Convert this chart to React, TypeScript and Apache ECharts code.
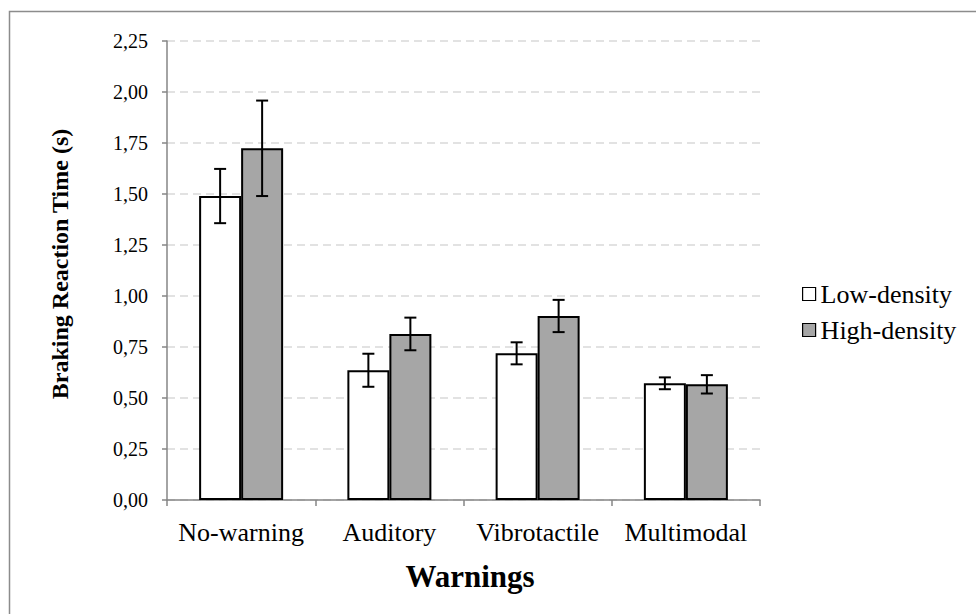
import React, { useEffect, useRef } from "react";
import * as echarts from "echarts";

const categories = ["No-warning", "Auditory", "Vibrotactile", "Multimodal"];
const lowDensity = [1.49, 0.636, 0.719, 0.572];
const highDensity = [1.724, 0.814, 0.902, 0.567];
const lowError = [0.133, 0.081, 0.054, 0.029];
const highError = [0.234, 0.08, 0.079, 0.045];
const yTicks = { min: 0, max: 2.25, interval: 0.25 };

const FONT = '"Liberation Serif", "Times New Roman", serif';

export default function App() {
  const ref = useRef<HTMLDivElement>(null);
  useEffect(() => {
    if (!ref.current) return;
    const chart = echarts.init(ref.current, undefined, { renderer: "svg" });
    const BAR_W = 42;
    const errData = [
      ...lowDensity.map((v, i) => [i, v, lowError[i], -1]),
      ...highDensity.map((v, i) => [i, v, highError[i], 1]),
    ];
    chart.setOption({
      animation: false,
      backgroundColor: "#ffffff",
      grid: { left: 167, right: 216, top: 41, bottom: 114 },
      legend: {
        orient: "vertical",
        left: 802,
        top: 281,
        padding: 0,
        itemWidth: 13,
        itemHeight: 13,
        itemGap: 10,
        itemTextGap: 6,
        icon: "rect",
        data: ["Low-density", "High-density"],
        itemStyle: { borderWidth: 1.2, borderColor: "#000" },
        textStyle: { fontFamily: FONT, fontSize: 26, color: "#000" },
      },
      xAxis: {
        type: "category",
        data: categories,
        axisLine: { lineStyle: { color: "#868686", width: 1.5 } },
        axisTick: { show: true, length: 6, lineStyle: { color: "#868686", width: 1.5 } },
        axisLabel: { fontFamily: FONT, fontSize: 26, color: "#000", margin: 19, interval: 0, hideOverlap: false },
      },
      yAxis: {
        type: "value",
        min: yTicks.min,
        max: yTicks.max,
        interval: yTicks.interval,
        axisLine: { show: true, lineStyle: { color: "#868686", width: 1.5 } },
        axisTick: { show: true, length: 5, lineStyle: { color: "#868686", width: 1.5 } },
        axisLabel: {
          fontFamily: FONT,
          fontSize: 20,
          color: "#000",
          margin: 19,
          formatter: (v: number) => v.toFixed(2).replace(".", ","),
        },
        splitLine: { show: true, lineStyle: { color: "#d9d9d9", width: 1.5, type: [8, 5] } },
      },
      series: [
        {
          name: "Low-density",
          type: "bar",
          data: lowDensity,
          barWidth: BAR_W,
          barGap: "0%",
          itemStyle: { color: "#ffffff", borderColor: "#000000", borderWidth: 2 },
        },
        {
          name: "High-density",
          type: "bar",
          data: highDensity,
          barWidth: BAR_W,
          barGap: "0%",
          itemStyle: { color: "#a6a6a6", borderColor: "#000000", borderWidth: 2 },
        },
        {
          name: "errors",
          type: "custom",
          z: 10,
          data: errData,
          encode: { x: 0, y: 1 },
          renderItem: (params: any, api: any) => {
            const c = api.value(0);
            const v = api.value(1);
            const e = api.value(2);
            const side = api.value(3);
            const top = api.coord([c, v + e]);
            const bot = api.coord([c, v - e]);
            const x = top[0] + side * (BAR_W / 2);
            const cap = 6;
            const style = { stroke: "#000", lineWidth: 2 };
            return {
              type: "group",
              children: [
                { type: "line", shape: { x1: x, y1: top[1], x2: x, y2: bot[1] }, style },
                { type: "line", shape: { x1: x - cap, y1: top[1], x2: x + cap, y2: top[1] }, style },
                { type: "line", shape: { x1: x - cap, y1: bot[1], x2: x + cap, y2: bot[1] }, style },
              ],
            };
          },
        },
      ],
      graphic: [
        {
          type: "rect",
          shape: { x: 9.5, y: 11.5, width: 1000, height: 1000 },
          style: { fill: "none", stroke: "#8c8c8c", lineWidth: 1.5 },
          silent: true,
          z: -1,
        },
        {
          type: "text",
          x: 60,
          y: 264,
          rotation: Math.PI / 2,
          style: {
            text: "Braking Reaction Time (s)",
            fontFamily: FONT,
            fontSize: 24,
            fontWeight: "bold",
            fill: "#000",
            align: "center",
            verticalAlign: "middle",
          },
        },
        {
          type: "text",
          x: 470,
          y: 576,
          style: {
            text: "Warnings",
            fontFamily: FONT,
            fontSize: 31,
            fontWeight: "bold",
            fill: "#000",
            align: "center",
            verticalAlign: "middle",
          },
        },
      ],
    });
    return () => chart.dispose();
  }, []);
  return (
    <div
      ref={ref}
      style={{ position: "absolute", left: 0, top: 0, width: 976, height: 614 }}
    />
  );
}
